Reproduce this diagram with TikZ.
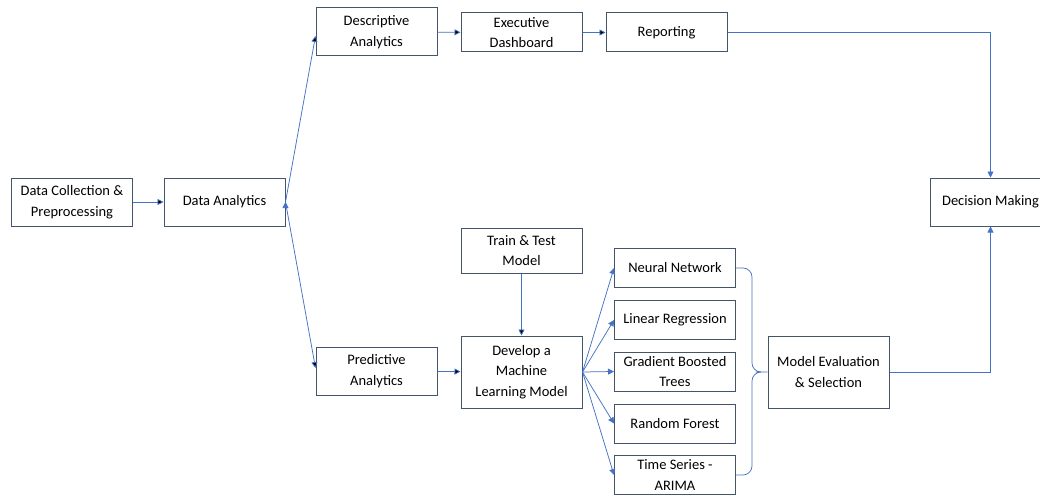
\documentclass[tikz,border=0pt]{standalone}
\usepackage{fontspec}
\setmainfont{Carlito}
\usetikzlibrary{arrows.meta,positioning}
\definecolor{boxline}{HTML}{44546A}
\definecolor{flow}{HTML}{4472C4}

\begin{document}
\begin{tikzpicture}[x=1pt,y=-1pt,>={Triangle[length=6pt,width=6pt]},
        box/.style={draw=boxline,line width=1pt,minimum width=121pt,minimum height=48pt,
            align=center,inner sep=2pt,font=\fontsize{14.5}{20.5}\selectfont},
        small/.style={box,minimum height=39pt},
        tall/.style={box,minimum height=72pt},
        flowline/.style={draw=flow,line width=0.75pt}]
        \useasboundingbox (0,0) rectangle (1040,495);

        \node[box] (dc) at (72,202) {Data Collection \&\\Preprocessing};
        \node[box] (da) at (224.5,202) {Data Analytics};
        \node[box] (desc) at (376.5,32) {Descriptive\\Analytics};
        \node[small] (exec) at (521.5,32.5) {Executive\\Dashboard};
        \node[small] (rep) at (666.5,32.5) {Reporting};
        \node[box] (dm) at (990.5,202) {Decision Making};
        \node[box,minimum height=45pt] (tt) at (521.5,250.5) {Train \& Test\\Model};
        \node[box] (pred) at (376.5,371) {Predictive\\Analytics};
        \node[tall] (ml) at (521.5,372) {Develop a\\Machine\\Learning Model};
        \node[tall] (ev) at (828.5,372) {Model Evaluation\\\& Selection};

        \node[small] (m1) at (675,268) {Neural Network};
        \node[small] (m2) at (675,320) {Linear Regression};
        \node[small] (m3) at (675,371.5) {Gradient Boosted\\Trees};
        \node[small] (m4) at (675,423.5) {Random Forest};
        \node[small] (m5) at (675,475) {Time Series -\\ARIMA};

        \path[flowline,->] (dc) edge (da)
            (da.east) edge ([yshift=-4pt]desc.west)
            (da.east) edge ([yshift=3pt]pred.west)
            (desc) edge (exec)
            (exec) edge (rep)
            (pred) edge (ml)
            (tt) edge (ml);
        \foreach \m in {1,...,5}
            \draw[flowline,->] (ml.east) -- (m\m.west);

        \draw[flowline,->] (rep.east) -| (dm.north);
        \draw[flowline,->] (ev.east) -| (dm.south);

        % brace joining the models
        \coordinate (tip) at ([xshift=-12pt]ev.west);
        \draw[flowline,rounded corners=9pt] (m1.east) -| ([xshift=16pt]m1.east |- tip) -- (ev.west);
        \draw[flowline,rounded corners=9pt] (m5.east) -| ([xshift=16pt]m5.east |- tip) -- (tip);
\end{tikzpicture}
\end{document}
